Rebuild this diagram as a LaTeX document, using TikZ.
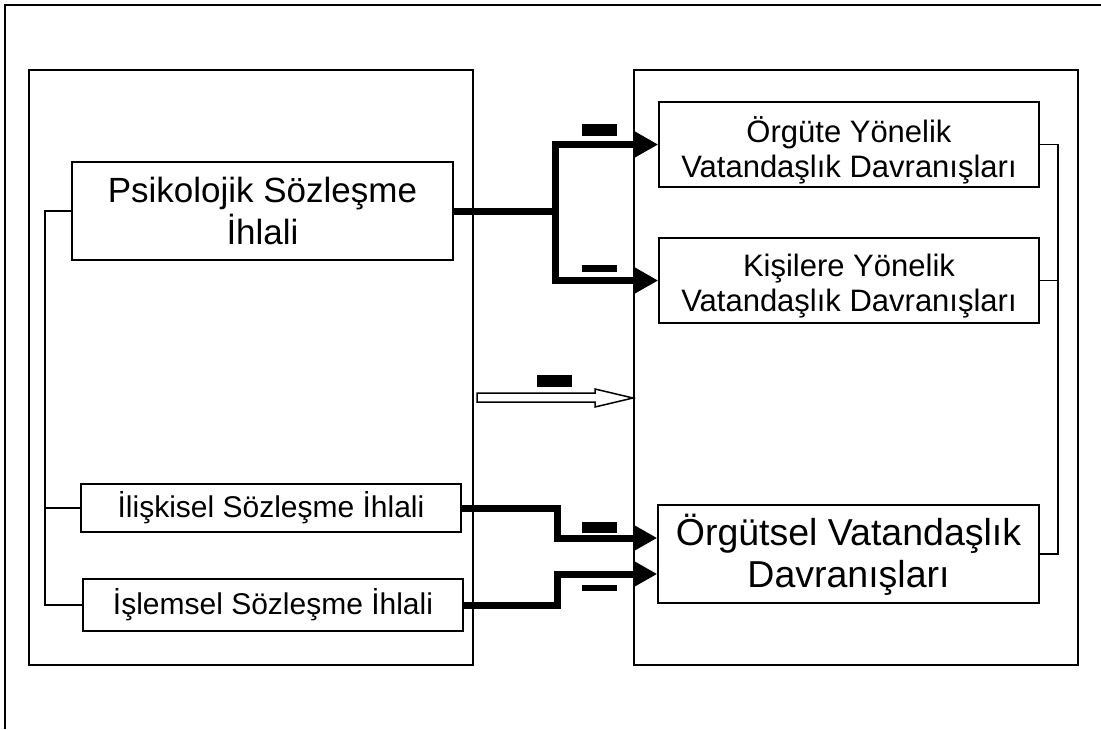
\documentclass[tikz,border=0pt]{standalone}
\usepackage{fontspec}
\setmainfont{Liberation Sans}
\usetikzlibrary{arrows.meta,calc}
\begin{document}
\begin{tikzpicture}[x=1pt,y=-1pt,
  panel/.style={draw,line width=1.5pt,minimum width=444pt,minimum height=595pt,inner sep=0pt},
  box/.style={draw,line width=1.5pt,inner sep=0pt,align=center},
  plain/.style={inner sep=0pt,align=center},
  bigtext/.style={font=\fontsize{35}{42}\selectfont},
  hugetext/.style={font=\fontsize{37.5}{42}\selectfont},
  midtext/.style={font=\fontsize{30}{34}\selectfont},
  sidetext/.style={font=\fontsize{31}{35}\selectfont},
  bracket/.style={line width=1.3pt},
  heavy/.style={line width=7pt,line join=miter},
  heavyarrow/.style={heavy,-{Triangle[length=24pt,width=25pt]}},
  minus/.style={fill=black,inner sep=0pt,minimum width=35pt}]
\useasboundingbox (0,0) rectangle (1101,729);

% frame
\draw[line width=1.5pt] (1101,5) -- (5,5) -- (5,729);

% two panels
\node[panel] (left) at (251,367.5) {};
\node[panel] (right) at (856,367.5) {};

% left-hand boxes
\node[box,bigtext,minimum width=381pt,minimum height=98pt] (psi) at (262.5,211) {Psikolojik Sözleşme\\İhlali};
\node[box,midtext,minimum width=380pt,minimum height=48pt] (rel) at (271,508) {İlişkisel Sözleşme İhlali};
\node[box,midtext,minimum width=380pt,minimum height=52pt] (tra) at (273,605) {İşlemsel Sözleşme İhlali};

% right-hand boxes (labels set a little below centre)
\node[box,minimum width=380pt,minimum height=85pt] (org) at (849,144.5) {};
\node[plain,sidetext] (org-t) at ($(org)+(0,6)$) {Örgüte Yönelik\\Vatandaşlık Davranışları};
\node[box,minimum width=380pt,minimum height=85pt] (ind) at (849,280.5) {};
\node[plain,sidetext] (ind-t) at ($(ind)+(0,6)$) {Kişilere Yönelik\\Vatandaşlık Davranışları};
\node[box,minimum width=381pt,minimum height=98pt] (ocb) at (848.5,554) {};
\node[plain,hugetext] (ocb-t) at ($(ocb)+(0,1)$) {Örgütsel Vatandaşlık\\Davranışları};

% brackets
\coordinate (lb) at (45,0);
\draw[bracket] (psi.west) -- (psi.west -| lb) |- (tra.west);
\draw[bracket] (rel.west) -- (rel.west -| lb);
\coordinate (rb) at (1058,0);
\draw[bracket] (org.east) -- (org.east -| rb) |- (ocb.east);
\draw[bracket] (ind.east) -- (ind.east -| rb);

% heavy connectors
\coordinate (fork) at ($(psi.east)+(102,0)$);
\draw[heavy] (psi.east) -- (fork);
\draw[heavyarrow] (fork) |- (org.west);
\draw[heavyarrow] (fork) |- (ind.west);
\coordinate (in1) at ($(ocb.west)+(0,-16)$);
\coordinate (in2) at ($(ocb.west)+(0,20)$);
\draw[heavyarrow] (rel.east) -- ++(96,0) |- (in1);
\draw[heavyarrow] (tra.east) -- ++(94,0) |- (in2);

% hollow arrow between panels
\draw[line width=1.5pt,fill=white,line join=miter]
  (477,393) -- (595,393) -- (595,389) -- (633,398) -- (595,407) -- (595,402) -- (477,402) -- cycle;

% minus signs
\node[minus,minimum height=12pt] (m1) at (599.5,130) {};
\node[minus,minimum height=7pt] (m2) at (599.5,268.5) {};
\node[minus,minimum height=12pt] (m3) at (554,381) {};
\node[minus,minimum height=11pt] (m4) at (599.5,527.5) {};
\node[minus,minimum height=6pt] (m5) at (599.5,587.5) {};
\end{tikzpicture}
\end{document}
